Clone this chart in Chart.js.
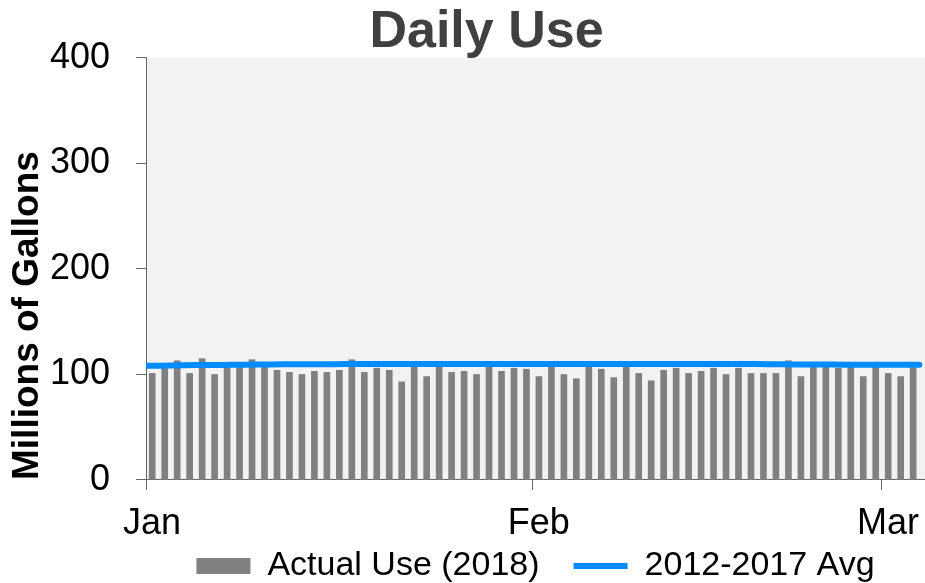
<!DOCTYPE html>
<html>
<head>
<meta charset="utf-8">
<title>Daily Use</title>
<script src="https://cdn.jsdelivr.net/npm/chart.js@4.4.1/dist/chart.umd.min.js"></script>
<style>
  html, body { margin: 0; padding: 0; background: #fff; }
</style>
</head>
<body>
<canvas id="useChart" width="925" height="583"></canvas>
<script>
// Daily use, Jan 1 - Mar 3 2018 (millions of gallons)
const actualUse = [
    101, 106, 113, 101, 115, 100, 109, 109, 114, 109,
    104, 102, 100, 103, 102, 104, 114, 102, 106, 104,
    93, 109, 98, 109, 102, 103, 100, 109, 103, 106,
    105,
    98, 109, 100, 96, 109, 105, 97, 109, 101, 94,
    104, 106, 101, 103, 106, 100, 106, 101, 101, 101,
    113, 98, 109, 109, 106, 109, 98, 109,
    101, 98, 109
];

// 2012-2017 average, one value per day boundary
const avgUse = [
    108.2, 108.4, 108.6, 108.7, 108.9, 109.0, 109.1, 109.2, 109.3, 109.4,
    109.5, 109.6, 109.6, 109.7, 109.8, 109.8, 109.9, 109.9, 109.9, 110.0,
    110.0, 110.0, 110.0, 110.0, 110.0, 110.0, 110.0, 110.0, 110.0, 110.0,
    110.0, 110.0, 110.0, 110.0, 110.0, 110.0, 110.0, 110.0, 110.0, 110.0,
    110.0, 110.0, 110.0, 110.0, 110.0, 110.0, 110.0, 110.0, 110.0, 110.0,
    109.8, 109.6, 109.5, 109.5, 109.4, 109.4, 109.3, 109.3, 109.3, 109.2,
    109.2, 109.2, 109.2
];

const monthLabels = ['Jan', 'Feb', 'Mar'];
const monthStartDay = [0, 31, 59];

const seriesNames = ['Actual Use (2018)', '2012-2017 Avg'];

Chart.defaults.font.family = '"Liberation Sans", Arial, sans-serif';
Chart.defaults.color = '#000';

// light grey plot area
const plotBg = {
    id: 'plotBg',
    beforeDraw(chart) {
        const { ctx, chartArea } = chart;
        ctx.save();
        ctx.fillStyle = '#f2f2f2';
        ctx.fillRect(chartArea.left, chartArea.top, chartArea.right - chartArea.left, chartArea.bottom - chartArea.top);
        ctx.restore();
    }
};

const ctx = document.getElementById('useChart').getContext('2d');
new Chart(ctx, {
    type: 'bar',
    data: {
        datasets: [{
            type: 'bar',
            label: seriesNames[0],
            data: actualUse.map((v, i) => ({ x: i + 0.5, y: v })),
            backgroundColor: '#808080',
            borderWidth: 0,
            barThickness: 6,
            pointStyle: 'rect',
            order: 1
        }, {
            type: 'line',
            label: seriesNames[1],
            data: avgUse.map((v, i) => ({ x: i, y: v })),
            borderColor: '#008cff',
            backgroundColor: '#008cff',
            borderWidth: 6,
            borderCapStyle: 'round',
            pointRadius: 0,
            pointStyle: 'line',
            tension: 0,
            order: 0
        }]
    },
    options: {
        responsive: false,
        animation: false,
        layout: { padding: { left: 48, right: 0, top: 0, bottom: -10 } },
        plugins: {
            title: {
                display: true,
                text: 'Daily Use',
                color: '#404040',
                font: { size: 52, weight: 'bold', lineHeight: 0.98 },
                padding: { top: 7, bottom: 0 }
            },
            legend: {
                position: 'bottom',
                fullSize: false,
                labels: {
                    usePointStyle: true,
                    pointStyleWidth: 54,
                    boxHeight: 16,
                    padding: 34,
                    color: '#000',
                    font: { size: 34 },
                    sort: (a, b) => a.datasetIndex - b.datasetIndex
                }
            },
            tooltip: { enabled: false }
        },
        scales: {
            x: {
                type: 'linear',
                min: 0,
                max: 62.45,
                offset: false,
                afterBuildTicks: (scale) => {
                    scale.ticks = monthStartDay.map(v => ({ value: v }));
                },
                afterFit: (scale) => { scale.height = 35; },
                ticks: {
                    autoSkip: false,
                    maxRotation: 0,
                    mirror: true,
                    padding: -66,
                    labelOffset: 6,
                    color: '#000',
                    font: { size: 36 },
                    callback: (v) => monthLabels[monthStartDay.indexOf(v)]
                },
                grid: { drawOnChartArea: false, offset: false, tickLength: 10, color: '#666' },
                border: { color: '#666' }
            },
            y: {
                min: 0,
                max: 400,
                afterFit: (scale) => { scale.width = 98; },
                ticks: {
                    stepSize: 100,
                    padding: 26,
                    color: '#000',
                    font: { size: 36 }
                },
                grid: { drawOnChartArea: false, tickLength: 10, color: '#666' },
                border: { color: '#666' },
                title: {
                    display: true,
                    text: 'Millions of Gallons',
                    align: 'start',
                    color: '#000',
                    font: { size: 37, weight: 'bold' },
                    padding: { top: -42, bottom: 0 }
                }
            }
        }
    },
    plugins: [plotBg]
});
</script>
</body>
</html>
